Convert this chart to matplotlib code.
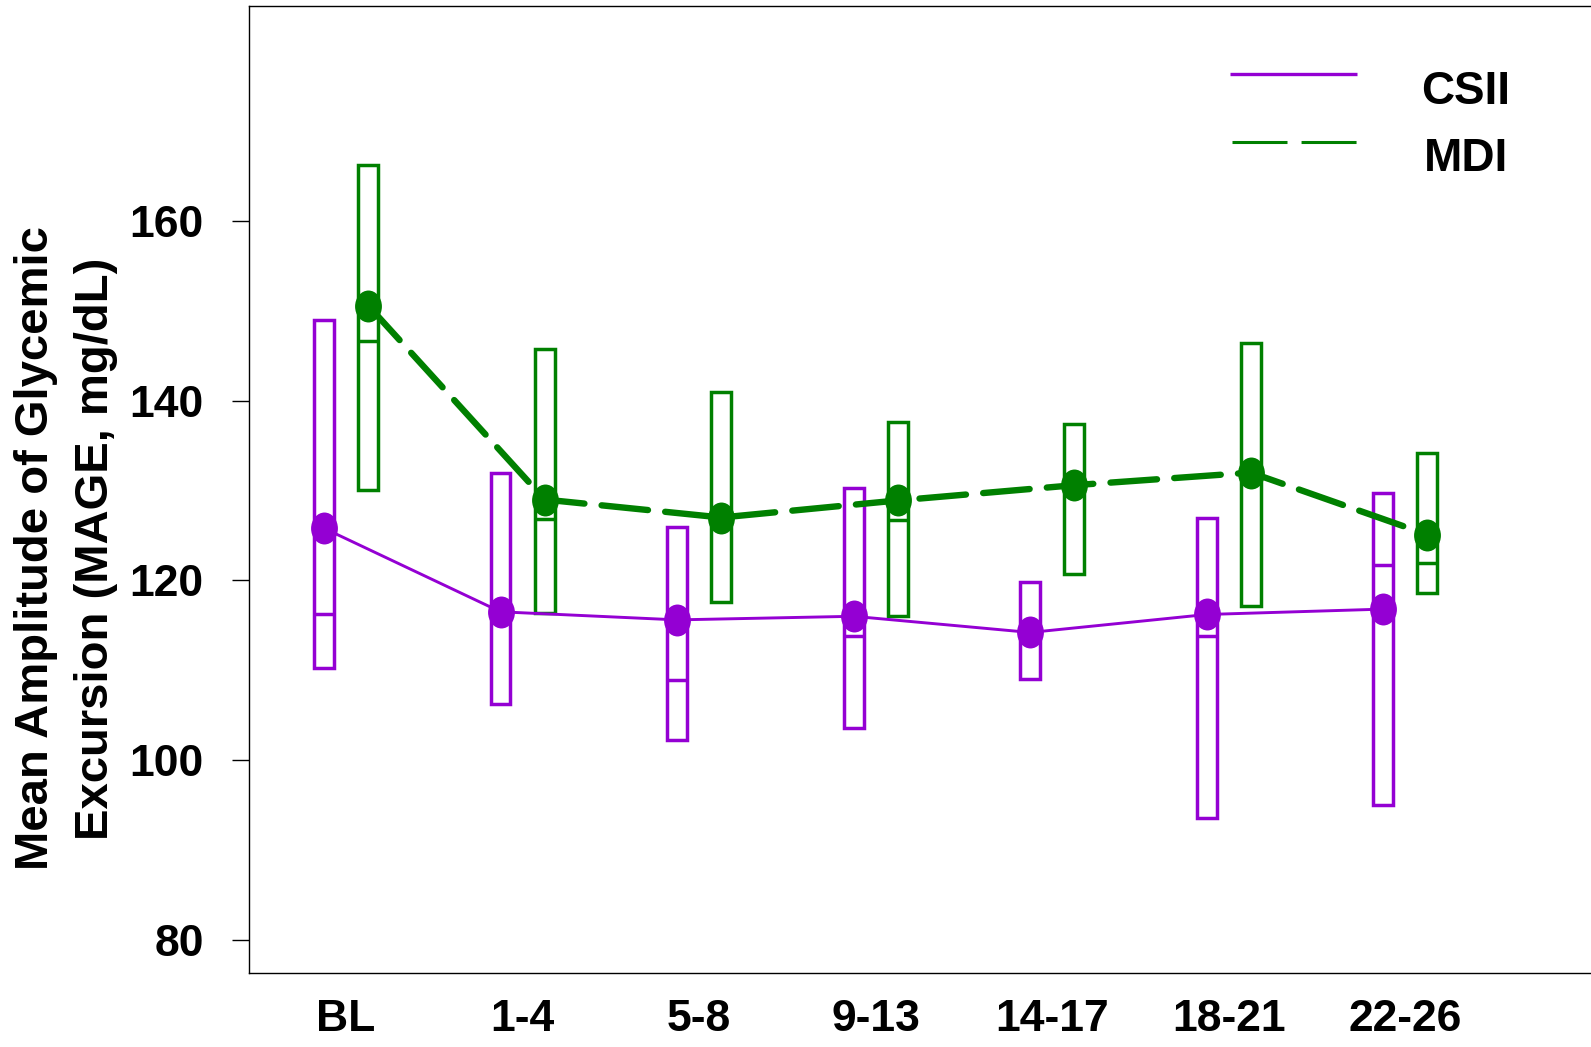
import numpy as np
import matplotlib
matplotlib.use("Agg")
import matplotlib.pyplot as plt
from matplotlib.path import Path
from matplotlib.patches import Rectangle
from matplotlib.transforms import Affine2D

plt.rcParams['font.family'] = ['Liberation Sans', 'DejaVu Sans']
plt.rcParams['font.weight'] = 'bold'

# Study periods (weeks)
categories = ["BL", "1-4", "5-8", "9-13", "14-17", "18-21", "22-26"]

# CSII group: mean, quartiles and median of MAGE (mg/dL)
csii_mean = [125.8, 116.5, 115.6, 116.0, 114.2, 116.2, 116.8]
csii_q1 = [110.2, 106.2, 102.2, 103.6, 109.0, 93.5, 95.0]
csii_median = [116.2, 116.4, 108.9, 113.8, 114.3, 113.8, 121.7]
csii_q3 = [149.0, 132.0, 125.9, 130.3, 119.8, 127.0, 129.7]

# MDI group
mdi_mean = [150.6, 129.0, 127.0, 128.9, 130.6, 132.0, 125.1]
mdi_q1 = [130.1, 116.4, 117.6, 116.0, 120.7, 117.2, 118.6]
mdi_median = [146.7, 126.8, 127.0, 126.7, 130.7, 132.0, 121.9]
mdi_q3 = [166.2, 145.8, 141.0, 137.6, 137.4, 146.4, 134.2]

PURPLE = "#9400D3"
GREEN = "#008000"

fig = plt.figure(figsize=(15.91, 10.47), dpi=100)
ax = fig.add_axes([0.1563, 0.0706, 0.8437, 0.9236])

x = np.arange(len(categories))
offset = 0.125
half_w = 0.056

# slightly tall elliptical marker
ellipse = Path.unit_circle().transformed(Affine2D().scale(1.0, 1.19))


def draw_group(xpos, q1, med, q3, mean, color, lw_line, ls):
    for xi, a, m, b in zip(xpos, q1, med, q3):
        ax.add_patch(Rectangle((xi - half_w, a), 2 * half_w, b - a,
                               fill=False, edgecolor=color, linewidth=2.5,
                               zorder=2))
        ax.plot([xi - half_w, xi + half_w], [m, m], color=color,
                linewidth=2.5, solid_capstyle='butt', zorder=2)
    line, = ax.plot(xpos, mean, color=color, linewidth=lw_line,
                    linestyle=ls, dash_capstyle='round', zorder=3)
    ax.plot(xpos, mean, linestyle='none', marker=ellipse, markersize=23,
            color=color, markeredgewidth=0, zorder=4)
    return line


draw_group(x - offset, csii_q1, csii_median, csii_q3, csii_mean,
           PURPLE, 2.1, '-')
draw_group(x + offset, mdi_q1, mdi_median, mdi_q3, mdi_mean,
           GREEN, 4.6, (0, (7.3, 2.7)))

ax.set_xlim(-0.552, 7.052)
ax.set_ylim(76.27, 183.95)

ax.set_yticks([80, 100, 120, 140, 160])
ax.set_xticks(x)
ax.set_xticklabels(categories)
ax.tick_params(axis='y', length=12.4, width=1.0, pad=20, labelsize=32)
ax.tick_params(axis='x', length=0, pad=19, labelsize=32)
for lab in ax.get_xticklabels() + ax.get_yticklabels():
    lab.set_fontweight('bold')

for side in ['left', 'top', 'bottom']:
    ax.spines[side].set_linewidth(1.0)
ax.spines['right'].set_visible(False)

# legend
ax.plot([0.7311, 0.8257], [0.9295, 0.9295], transform=ax.transAxes,
        color=PURPLE, linewidth=2.4, solid_capstyle='butt')
ax.plot([0.7326, 0.8265], [0.8598, 0.8598], transform=ax.transAxes,
        color=GREEN, linewidth=2.2, linestyle=(0, (18, 4.6)),
        dash_capstyle='butt')
ax.text(0.9069, 0.8988, "CSII", transform=ax.transAxes, ha='center',
        va='baseline', fontsize=33, fontweight='bold')
ax.text(0.9069, 0.8298, "MDI", transform=ax.transAxes, ha='center',
        va='baseline', fontsize=33, fontweight='bold')

# two-line y-axis title
fig.text(0.0229, 0.4766, "Mean Amplitude of Glycemic", rotation=90,
         ha='center', va='center', fontsize=34, fontweight='bold')
fig.text(0.0606, 0.4757, "Excursion (MAGE, mg/dL)", rotation=90,
         ha='center', va='center', fontsize=34, fontweight='bold')

fig.savefig("out.png", dpi=100)
